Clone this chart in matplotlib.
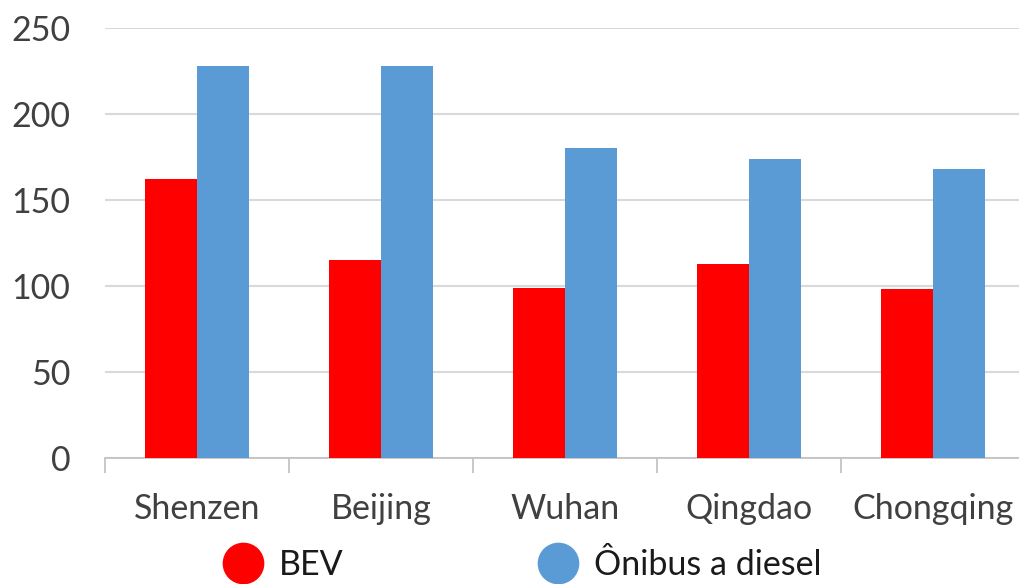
import numpy as np
import matplotlib.pyplot as plt
from matplotlib.lines import Line2D

# city data
cities = ["Shenzen", "Beijing", "Wuhan", "Qingdao", "Chongqing"]
bev = [162, 115, 99, 113, 98]
diesel = [228, 228, 180, 174, 168]

plt.rcParams['font.family'] = ['Lato', 'DejaVu Sans']

fig = plt.figure(figsize=(10.2, 5.84), dpi=100)
ax = fig.add_axes([105/1020, 1 - 458/584, 920/1020, 430/584])

x = np.arange(len(cities))
w = 0.283
ax.bar(x - w/2, bev, width=w, color="#ff0000", zorder=3)
ax.bar(x + w/2, diesel, width=w, color="#5b9bd5", zorder=3)

ax.set_xlim(-0.5, len(cities) - 0.5)
ax.set_ylim(0, 250)
ax.set_yticks([0, 50, 100, 150, 200, 250])
ax.grid(axis="y", color="#d9d9d9", linewidth=1.5, zorder=0)

# category boundaries as tick marks, labels centred in each slot
ax.set_xticks(np.arange(len(cities) + 1) - 0.5)
ax.set_xticklabels([])
ax.set_xticks(x, minor=True)
ax.set_xticklabels(cities, minor=True)
ax.tick_params(axis="x", which="major", length=11, width=1.2, color="#bfbfbf")
ax.tick_params(axis="x", which="minor", length=0, pad=25, labelsize=24.5, labelcolor="#404040")
ax.tick_params(axis="y", length=0, pad=25, labelsize=24.5, labelcolor="#404040")

for s in ["top", "right", "left"]:
    ax.spines[s].set_visible(False)
ax.spines["bottom"].set_color("#bfbfbf")
ax.spines["bottom"].set_linewidth(1.2)

handles = [
    Line2D([], [], marker="o", linestyle="none", markersize=29, color="#ff0000"),
    Line2D([], [], marker="o", linestyle="none", markersize=29, color="#5b9bd5"),
]
fig.legend(handles, ["BEV", "Ônibus a diesel"], loc="center", bbox_to_anchor=(0.505, 0.033),
           ncol=2, frameon=False, fontsize=24.5, handletextpad=0.05, columnspacing=5.3,
           labelcolor="#1a1a1a")

fig.savefig("out.png", dpi=100)
